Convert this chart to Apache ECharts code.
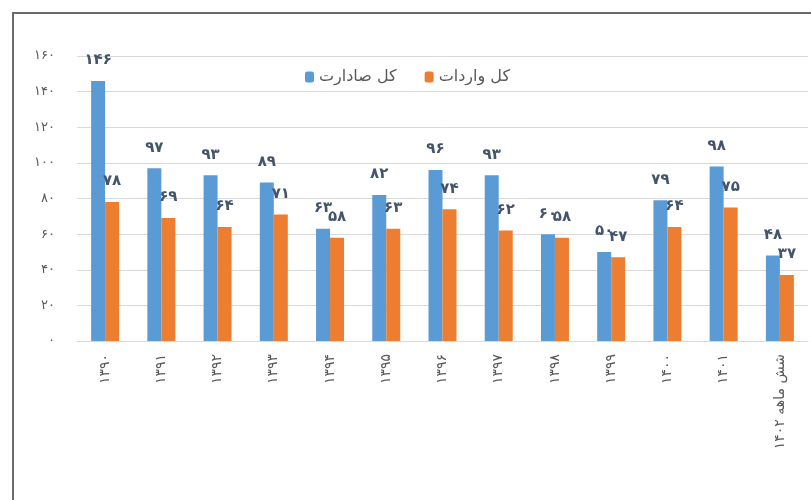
<!DOCTYPE html>
<html>
<head>
<meta charset="utf-8">
<script src="https://cdn.jsdelivr.net/npm/echarts@6/dist/echarts.min.js"></script>
<style>
  html, body { margin: 0; padding: 0; background: #fff; }
  #frame { position: absolute; left: 0; top: 0; width: 811px; height: 500px; overflow: hidden; }
  #chart { position: absolute; left: 12px; top: 12px; width: 799px; height: 488px;
           border-left: 2px solid #6b6b6b; border-top: 2px solid #6b6b6b; box-sizing: border-box; }
</style>
</head>
<body>
<div id="frame"><div id="chart"></div></div>
<script>
const years = ['1390', '1391', '1392', '1393', '1394', '1395', '1396', '1397', '1398', '1399', '1400', '1401', 'شش ماهه 1402'];
const exportsTotal = [146, 97, 93, 89, 63, 82, 96, 93, 60, 50, 79, 98, 48];
const importsTotal = [78, 69, 64, 71, 58, 63, 74, 62, 58, 47, 64, 75, 37];
const seriesNames = ['کل صادارت', 'کل واردات'];

const faDigits = (v) => String(v).replace(/\d/g, (d) => '۰۱۲۳۴۵۶۷۸۹'[d]);
const font = 'DejaVu Sans';

const chart = echarts.init(document.getElementById('chart'));
const barLabel = {
    show: true,
    position: 'top',
    distance: 13,
    color: '#44546a',
    fontFamily: font,
    fontSize: 15,
    fontWeight: 'bold',
    formatter: (p) => faDigits(p.value),
};

chart.setOption({
    animation: false,
    textStyle: { fontFamily: font },
    legend: {
        top: 50,
        left: 286,
        itemWidth: 9,
        itemHeight: 11,
        itemGap: 28,
        textStyle: { color: '#595959', fontSize: 16, fontFamily: font },
        data: seriesNames,
    },
    grid: { left: 63, right: 3, top: 42, bottom: 159, containLabel: false, outerBoundsMode: 'none' },
    xAxis: {
        type: 'category',
        data: years,
        axisLine: { lineStyle: { color: '#d9d9d9' } },
        axisTick: { show: false },
        axisLabel: {
            rotate: 90,
            margin: 13,
            color: '#595959',
            fontSize: 14,
            interval: 0,
            formatter: (v) => faDigits(v),
        },
    },
    yAxis: {
        type: 'value',
        min: 0,
        max: 160,
        interval: 20,
        axisLine: { show: false },
        axisTick: { show: false },
        splitLine: { lineStyle: { color: '#d9d9d9' } },
        axisLabel: {
            margin: 22,
            color: '#595959',
            fontSize: 13,
            formatter: (v) => faDigits(v),
        },
    },
    series: [
        {
            name: seriesNames[0],
            type: 'bar',
            data: exportsTotal,
            barWidth: 14,
            barGap: '0%',
            itemStyle: { color: '#5b9bd5' },
            label: barLabel,
        },
        {
            name: seriesNames[1],
            type: 'bar',
            data: importsTotal,
            barWidth: 14,
            itemStyle: { color: '#ed7d31' },
            label: barLabel,
        },
    ],
});
</script>
</body>
</html>
